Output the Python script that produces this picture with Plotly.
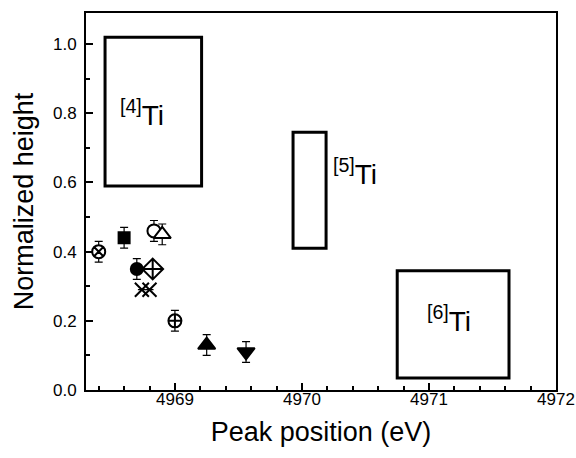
import plotly.graph_objects as go

# ---- data ----
peak_x = [4968.40, 4968.60, 4968.835, 4968.90, 4968.70, 4968.825, 4968.74, 4968.80, 4969.00, 4969.25, 4969.56]
norm_y = [0.40, 0.44, 0.46, 0.45, 0.35, 0.35, 0.29, 0.29, 0.20, 0.13, 0.11]
err_y = [0.03, 0.03, 0.03, 0.03, 0.03, 0.0, 0.0, 0.0, 0.03, 0.03, 0.03]
symbols = ["circle-x", "square", "circle", "triangle-up", "circle", "diamond-cross",
           "x-thin", "x-thin", "circle-cross", "triangle-up", "triangle-down"]
fills = ["white", "black", "white", "white", "black", "white",
         "white", "white", "white", "black", "black"]
sizes = [13, 11, 13, 15, 12, 16, 14, 14, 13, 15, 15]

box_labels = ["<sup>[4]</sup>Ti", "<sup>[5]</sup>Ti", "<sup>[6]</sup>Ti"]
box_x0 = [4968.45, 4969.93, 4970.75]
box_x1 = [4969.21, 4970.19, 4971.63]
box_y0 = [0.59, 0.41, 0.035]
box_y1 = [1.02, 0.745, 0.345]
label_x = [4968.555, 4970.23, 4970.97]
label_y = [0.80, 0.63, 0.205]

x_ticks = [4969, 4970, 4971, 4972]
y_ticks = [0.0, 0.2, 0.4, 0.6, 0.8, 1.0]
y_ticktext = ["0.0", "0.2", "0.4", "0.6", "0.8", "1.0"]

FONT = "Liberation Sans, Arial, sans-serif"

fig = go.Figure()
fig.add_trace(go.Scatter(
    x=peak_x, y=norm_y, mode="markers", opacity=1,
    error_y=dict(type="data", array=err_y, visible=True, color="#000000",
                 thickness=1.2, width=4),
    marker=dict(symbol=symbols, size=sizes, color=fills, opacity=1,
                line=dict(color="black", width=2)),
    showlegend=False,
))

shapes = []
for i in range(len(box_x0)):
    shapes.append(dict(type="rect", xref="x", yref="y",
                       x0=box_x0[i], x1=box_x1[i], y0=box_y0[i], y1=box_y1[i],
                       line=dict(color="black", width=3), fillcolor="rgba(0,0,0,0)"))

annotations = []
for i in range(len(box_labels)):
    annotations.append(dict(x=label_x[i], y=label_y[i], xref="x", yref="y",
                            text=box_labels[i], showarrow=False,
                            xanchor="left", yanchor="middle",
                            font=dict(family=FONT, size=28, color="black")))

fig.update_layout(
    width=576, height=458,
    margin=dict(l=86, r=20, t=13, b=68),
    paper_bgcolor="white", plot_bgcolor="white",
    shapes=shapes, annotations=annotations,
    font=dict(family=FONT, color="black"),
)
fig.update_xaxes(
    range=[4968.3, 4972], tickvals=x_ticks, ticktext=[str(v) for v in x_ticks],
    ticks="inside", ticklen=7, tickwidth=1.5, tickcolor="black",
    minor=dict(dtick=0.2, ticks="inside", ticklen=4, tickwidth=1.5, tickcolor="black"),
    showline=True, linecolor="black", linewidth=2, mirror=True,
    showgrid=False, zeroline=False, automargin=False,
    tickfont=dict(family=FONT, size=17), ticklabelstandoff=-7,
    title=dict(text="Peak position (eV)", font=dict(family=FONT, size=27), standoff=14),
)
fig.update_yaxes(
    range=[0, 1.09], tickvals=y_ticks, ticktext=y_ticktext,
    ticks="inside", ticklen=7, tickwidth=1.5, tickcolor="black",
    minor=dict(dtick=0.1, ticks="inside", ticklen=4, tickwidth=1.5, tickcolor="black"),
    showline=True, linecolor="black", linewidth=2, mirror=True,
    showgrid=False, zeroline=False, automargin=False,
    tickfont=dict(family=FONT, size=17), ticklabelstandoff=4,
    title=dict(text="Normalized height", font=dict(family=FONT, size=27), standoff=12),
)

fig.write_html("out.html")
